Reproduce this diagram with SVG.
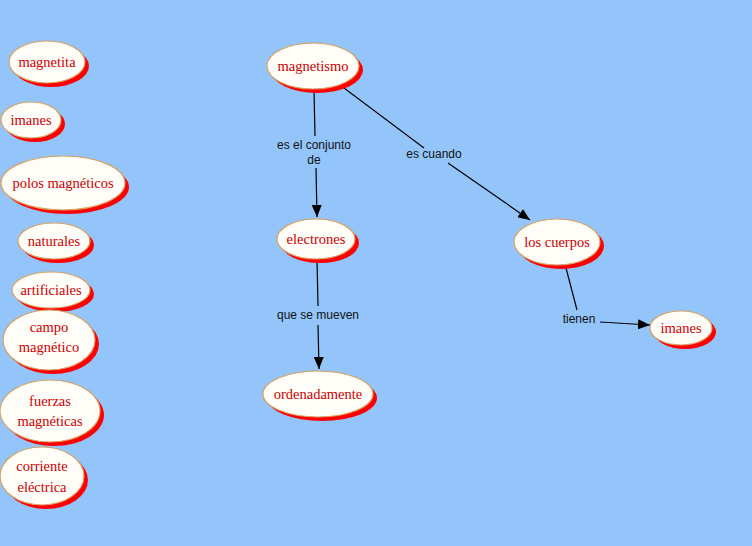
<svg xmlns="http://www.w3.org/2000/svg" width="752" height="546" viewBox="0 0 752 546">
<style>
.sh{fill:#ff0000;stroke:none}
.nd{fill:#fffdf8;stroke:#d9a060;stroke-width:1.2}
.t{font-family:"Liberation Serif","Times New Roman",serif;font-size:14.5px;fill:#cc0000;text-anchor:middle}
.l{font-family:"Liberation Sans",Arial,sans-serif;font-size:12px;fill:#111;text-anchor:middle}
.c{stroke:#000;stroke-width:1.2;fill:none}
</style>
<defs>
<marker id="ah" viewBox="0 0 12 10" refX="12" refY="5" markerWidth="12" markerHeight="10" markerUnits="userSpaceOnUse" orient="auto">
<path d="M0,0 L12,5 L0,10 Z" fill="#000"/>
</marker>
</defs>
<rect width="752" height="546" fill="#93c5fa"/>
<g id="connectors">
<line class="c" x1="314" y1="90" x2="315" y2="136"/>
<line class="c" x1="316" y1="168" x2="317" y2="217" marker-end="url(#ah)"/>
<line class="c" x1="344" y1="88" x2="424" y2="148"/>
<line class="c" x1="448" y1="163" x2="530" y2="220" marker-end="url(#ah)"/>
<line class="c" x1="317" y1="260" x2="318" y2="306"/>
<line class="c" x1="318" y1="325" x2="319" y2="369" marker-end="url(#ah)"/>
<line class="c" x1="566" y1="268" x2="577" y2="310"/>
<line class="c" x1="600" y1="322" x2="650" y2="325" marker-end="url(#ah)"/>
<text class="l" x="314" y="149">es el conjunto</text>
<text class="l" x="314" y="164">de</text>
<text class="l" x="434" y="158">es cuando</text>
<text class="l" x="318" y="319">que se mueven</text>
<text class="l" x="579" y="323">tienen</text>
</g>
<g id="magnetita"><ellipse class="sh" cx="51" cy="66" rx="38" ry="21"/><ellipse class="nd" cx="47" cy="62" rx="38" ry="21"/><text class="t" x="47" y="67">magnetita</text></g>
<g id="imanes1"><ellipse class="sh" cx="35" cy="124" rx="30" ry="18"/><ellipse class="nd" cx="31" cy="120" rx="30" ry="18"/><text class="t" x="31" y="125">imanes</text></g>
<g id="polos"><ellipse class="sh" cx="67" cy="187" rx="62" ry="27"/><ellipse class="nd" cx="63" cy="183" rx="62" ry="27"/><text class="t" x="63" y="188">polos magnéticos</text></g>
<g id="naturales"><ellipse class="sh" cx="58" cy="245" rx="36" ry="18"/><ellipse class="nd" cx="54" cy="241" rx="36" ry="18"/><text class="t" x="54" y="246">naturales</text></g>
<g id="artificiales"><ellipse class="sh" cx="55" cy="294" rx="39" ry="18"/><ellipse class="nd" cx="51" cy="290" rx="39" ry="18"/><text class="t" x="51" y="295">artificiales</text></g>
<g id="campo"><ellipse class="sh" cx="53" cy="344" rx="46" ry="30"/><ellipse class="nd" cx="49" cy="340" rx="46" ry="30"/><text class="t" x="49" y="332">campo</text><text class="t" x="49" y="352">magnético</text></g>
<g id="fuerzas"><ellipse class="sh" cx="54" cy="415" rx="50" ry="31"/><ellipse class="nd" cx="50" cy="411" rx="50" ry="31"/><text class="t" x="50" y="406">fuerzas</text><text class="t" x="50" y="426">magnéticas</text></g>
<g id="corriente"><ellipse class="sh" cx="46" cy="480" rx="42" ry="29"/><ellipse class="nd" cx="42" cy="476" rx="42" ry="29"/><text class="t" x="42" y="471">corriente</text><text class="t" x="42" y="492">eléctrica</text></g>
<g id="magnetismo"><ellipse class="sh" cx="317" cy="70" rx="46" ry="23"/><ellipse class="nd" cx="313" cy="66" rx="46" ry="23"/><text class="t" x="313" y="71">magnetismo</text></g>
<g id="electrones"><ellipse class="sh" cx="320" cy="243" rx="39" ry="20"/><ellipse class="nd" cx="316" cy="239" rx="39" ry="20"/><text class="t" x="316" y="244">electrones</text></g>
<g id="ordenadamente"><ellipse class="sh" cx="322" cy="398" rx="55" ry="23"/><ellipse class="nd" cx="318" cy="394" rx="55" ry="23"/><text class="t" x="318" y="399">ordenadamente</text></g>
<g id="loscuerpos"><ellipse class="sh" cx="561" cy="246" rx="43" ry="23"/><ellipse class="nd" cx="557" cy="242" rx="43" ry="23"/><text class="t" x="557" y="247">los cuerpos</text></g>
<g id="imanes2"><ellipse class="sh" cx="685" cy="332" rx="31" ry="17"/><ellipse class="nd" cx="681" cy="328" rx="31" ry="17"/><text class="t" x="681" y="333">imanes</text></g>
</svg>
